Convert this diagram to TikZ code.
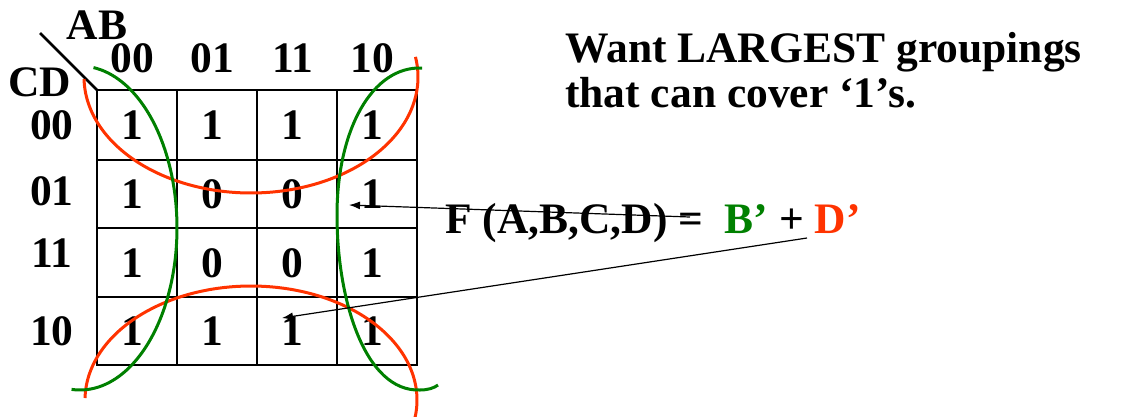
\documentclass[tikz,border=0pt]{standalone}
\usepackage{fontspec}
\setmainfont{Liberation Serif}
\usetikzlibrary{arrows.meta}
\definecolor{kred}{RGB}{255,51,0}
\definecolor{kgreen}{RGB}{0,128,0}
\begin{document}
\begin{tikzpicture}[x=1pt,y=-1pt,
  txt/.style={font=\fontsize{43.5}{50}\selectfont\bfseries, inner sep=0pt},
  gridline/.style={line width=2.6pt},
  loopr/.style={draw=kred,line width=3pt},
  loopg/.style={draw=kgreen,line width=3pt},
  ptr/.style={line width=1.2pt,-{Latex[length=11pt,width=8pt]}}]
\useasboundingbox (0,0) rectangle (1122,416);
% grid
\draw[gridline] (97,90) rectangle (417,365);
\foreach \x in {177,257,337} \draw[gridline] (\x,90) -- (\x,365);
\foreach \y in {160,228,297} \draw[gridline] (97,\y) -- (417,\y);
\coordinate (corner) at (97,90);
\coordinate (diagend) at (40,33);
\draw[gridline] (corner) -- (diagend);
% headers
\node[txt] (ab) at (97,25) {AB};
\node[txt] (cd) at (40,82) {CD};
\node[txt] (h00) at (132,58) {00};
\node[txt] (h01) at (212,58) {01};
\node[txt] (h11) at (293,58) {11};
\node[txt] (h10) at (372,58) {10};
\node[txt] (r00) at (52,125) {00};
\node[txt] (r01) at (52,191) {01};
\node[txt] (r11) at (52,253) {11};
\node[txt] (r10) at (52,331) {10};
% cells
\node[txt] (c11) at (132,125) {1};
\node[txt] (c12) at (212,125) {1};
\node[txt] (c13) at (292,125) {1};
\node[txt] (c14) at (372,125) {1};
\node[txt] (c21) at (132,194) {1};
\node[txt] (c22) at (212,194) {0};
\node[txt] (c23) at (292,194) {0};
\node[txt] (c24) at (372,194) {1};
\node[txt] (c31) at (132,263) {1};
\node[txt] (c32) at (212,263) {0};
\node[txt] (c33) at (292,263) {0};
\node[txt] (c34) at (372,263) {1};
\node[txt] (c41) at (132,331) {1};
\node[txt] (c42) at (212,331) {1};
\node[txt] (c43) at (292,331) {1};
\node[txt] (c44) at (372,331) {1};
% loops
\draw[loopr] plot[domain=-10:179,samples=80,smooth] ({251+167*cos(\x)},{77+116*sin(\x)});
\draw[loopr] plot[domain=181:370,samples=80,smooth] ({251+166*cos(\x)},{400+114*sin(\x)});
\draw[loopg] plot[domain=-82:95,samples=80,smooth] ({80+97*cos(\x)},{228+162*sin(\x)});
\draw[loopg] (422,68) .. controls (372,66) and (337,130) .. (337,215)
  .. controls (337,300) and (365,392) .. (420,390)
  .. controls (428,390) and (434,388) .. (438,385);
% text
\node[txt,anchor=base west] (want1) at (565,62) {Want LARGEST groupings};
\node[txt,anchor=base west] (want2) at (565,107) {that can cover ‘1’s.};
\node[txt,anchor=base west] (f) at (445,233) {F (A,B,C,D) =\ \ {\color{kgreen}B’} + {\color{kred}D’}};
% pointers
\coordinate (p1s) at (690,217);
\coordinate (p1e) at (349,205);
\coordinate (p2s) at (807,238);
\coordinate (p2e) at (282,318);
\draw[ptr] (p1s) -- (p1e);
\draw[ptr] (p2s) -- (p2e);
\end{tikzpicture}
\end{document}
